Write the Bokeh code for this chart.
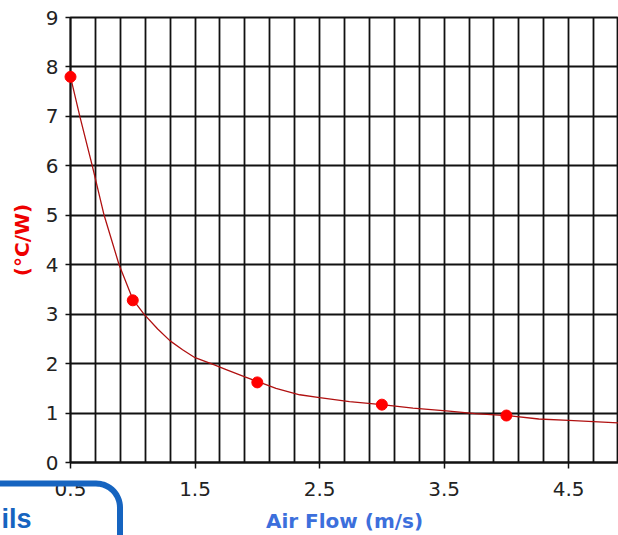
import numpy as np
from bokeh.plotting import figure
from bokeh.models import FixedTicker, Range1d
from bokeh.core.properties import value
from bokeh.embed import file_html
from bokeh.resources import INLINE

# measured points
flow = [0.5, 1.0, 2.0, 3.0, 4.0]
resistance = [7.8, 3.28, 1.62, 1.17, 0.95]

# fitted curve
curve_x = [0.5, 0.575, 0.675, 0.77, 0.89, 1.0, 1.09, 1.2, 1.3, 1.4, 1.5, 1.65,
           1.75, 1.9, 2.0, 2.15, 2.34, 2.5, 2.74, 3.0, 3.25, 3.54, 3.75, 4.0,
           4.26, 4.5, 4.9]
curve_y = [7.8, 7.0, 6.0, 5.0, 4.0, 3.3, 3.0, 2.7, 2.46, 2.28, 2.12, 1.98,
           1.88, 1.73, 1.64, 1.5, 1.37, 1.31, 1.23, 1.17, 1.1, 1.04, 0.99, 0.95,
           0.88, 0.85, 0.80]

x_ticks = [0.5, 1.5, 2.5, 3.5, 4.5]
y_ticks = [0, 1, 2, 3, 4, 5, 6, 7, 8, 9]
x_grid = [round(0.5 + 0.2 * i, 2) for i in range(23)]

x_title = "Air Flow (m/s)"
y_title = "(°C/W)"
overlay_text = "ils"

# ---- layout (pixels) ----
W, H = 618, 535
FL, FR, FT, FB = 70, 618, 17, 462   # frame edges
X0, X1, Y0, Y1 = 0.5, 4.9, 0.0, 9.0

p = figure(width=W, height=H, output_backend="svg", toolbar_location=None,
           x_range=Range1d(X0, X1), y_range=Range1d(Y0, Y1),
           min_border_left=FL, min_border_right=W - FR, min_border_top=FT,
           min_border_bottom=H - FB)
p.background_fill_color = "white"
p.border_fill_color = "white"
p.outline_line_color = "#111111"
p.outline_line_width = 1.8

p.xaxis.ticker = FixedTicker(ticks=x_ticks)
p.yaxis.ticker = FixedTicker(ticks=y_ticks)
p.xgrid.ticker = FixedTicker(ticks=x_grid)
for g in (p.xgrid, p.ygrid):
    g.grid_line_color = "#111111"
    g.grid_line_width = 1.8

for ax in (p.xaxis, p.yaxis):
    ax.axis_line_color = "#111111"
    ax.axis_line_width = 1.8
    ax.major_tick_line_color = "#111111"
    ax.major_tick_line_width = 1.5
    ax.major_tick_in = 0
    ax.minor_tick_line_color = None
    ax.major_label_text_font = "DejaVu Sans"
    ax.major_label_text_font_size = "20px"
    ax.major_label_text_color = "#222222"

p.xaxis.major_tick_out = 6
p.yaxis.major_tick_out = 5
p.xaxis.major_label_standoff = 13
p.yaxis.major_label_standoff = 7

p.xaxis.axis_label = x_title
p.xaxis.axis_label_text_font = "DejaVu Sans"
p.xaxis.axis_label_text_font_style = "bold"
p.xaxis.axis_label_text_font_size = "20px"
p.xaxis.axis_label_text_color = "#3c6fdc"
p.xaxis.axis_label_standoff = 10

p.yaxis.axis_label = y_title
p.yaxis.axis_label_text_font = "DejaVu Sans"
p.yaxis.axis_label_text_font_style = "bold"
p.yaxis.axis_label_text_font_size = "20px"
p.yaxis.axis_label_text_color = "#ee0000"
p.yaxis.axis_label_standoff = 9

p.line(curve_x, curve_y, line_color="#b01010", line_width=1.3)
p.scatter(flow, resistance, size=11, color="#ff0000", level="overlay")

# ---- decorative web-page overlay (rounded box corner + cut text) ----
ppx = (FR - FL) / (X1 - X0)
ppy = (FB - FT) / (Y1 - Y0)


def dx(px):
    return X0 + (px - FL) / ppx


def dy(py):
    return Y0 + (FB - py) / ppy


r, bx, by = 24, 119.5, 483.0
cx, cy = bx - r, by + r
t = np.linspace(0, np.pi / 2, 16)
path_px = [bx] + list(cx + r * np.cos(t)) + [-20]
path_py = [560] + list(cy - r * np.sin(t)) + [by]
p.line([dx(v) for v in path_px], [dy(v) for v in path_py],
       line_color="#1664c0", line_width=6, line_join="round", level="overlay")
p.text([dx(1)], [dy(503)], text=[overlay_text], text_font=value("Liberation Sans"),
       text_font_style="bold", text_font_size="27px", text_color="#1664c0",
       text_align="left", text_baseline="top", level="overlay")

open("out.html", "w").write(file_html(p, INLINE))
